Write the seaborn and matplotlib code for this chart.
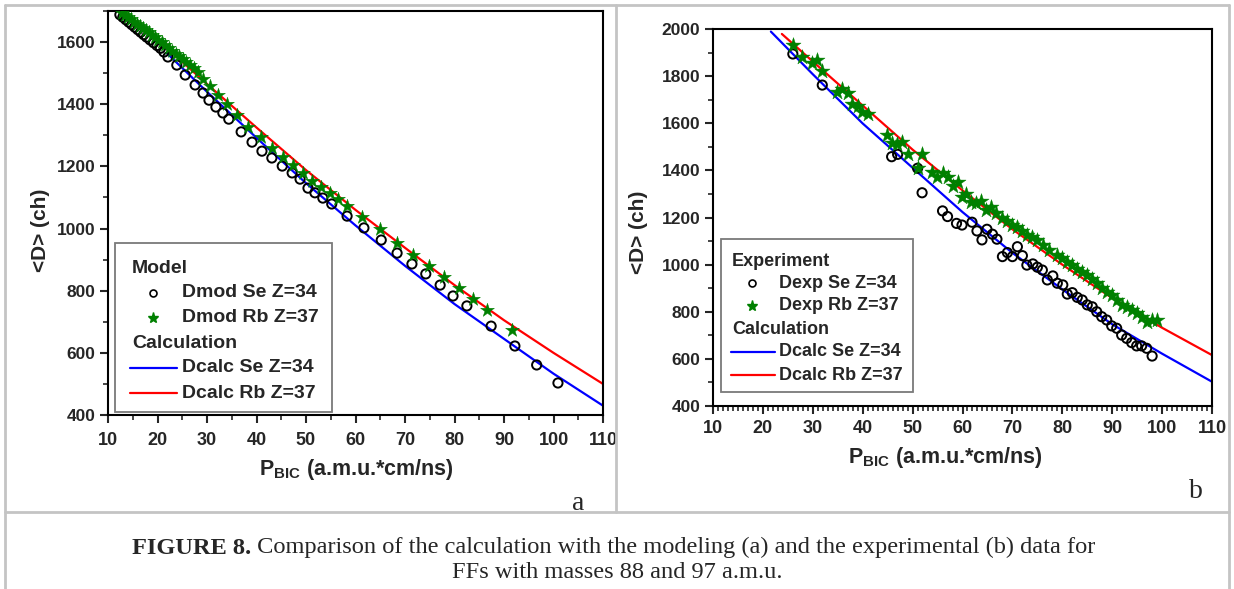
import numpy as np
import pandas as pd
import seaborn as sns
import matplotlib.pyplot as plt
from matplotlib.ticker import MultipleLocator
from matplotlib.lines import Line2D
from matplotlib.patches import Rectangle

# ---- panel a: model data (mass 88 / 97)
a_se_x = [12.4, 13.0, 13.6, 14.2, 14.8, 15.4, 16.0, 16.6, 17.2, 17.8, 18.5, 19.2, 19.9, 20.6,
          21.3, 22.1, 23.9, 25.6, 27.6, 29.2, 30.4, 31.8, 33.2, 34.4, 36.9, 39.1, 41.1, 43.1,
          45.2, 47.2, 48.8, 50.4, 51.8, 53.4, 55.2, 58.3, 61.7, 65.2, 68.4, 71.4, 74.2, 77.1,
          79.7, 82.5, 87.4, 92.2, 96.6, 100.9]
a_se_y = [1688, 1680, 1672, 1664, 1656, 1648, 1640, 1632, 1624, 1616, 1607, 1598, 1589, 1580,
          1568, 1552, 1526, 1494, 1462, 1436, 1413, 1391, 1372, 1352, 1311, 1278, 1249, 1227,
          1201, 1179, 1159, 1130, 1115, 1098, 1079, 1040, 1002, 963, 921, 886, 854, 818,
          783, 751, 686, 622, 561, 503]
a_rb_x = [12.8, 13.4, 14.0, 14.6, 15.2, 15.8, 16.4, 17.0, 17.6, 18.2, 18.8, 19.5, 20.2, 20.9,
          21.6, 22.3, 23.0, 23.7, 24.4, 25.1, 25.8, 26.6, 27.4, 28.2, 29.2, 30.6, 32.2, 34.0,
          36.1, 38.3, 40.9, 43.1, 45.3, 47.4, 49.4, 51.2, 53.0, 54.8, 56.5, 58.3, 61.3, 64.9,
          68.4, 71.6, 74.8, 77.9, 80.9, 83.7, 86.6, 91.6]
a_rb_y = [1694, 1687, 1680, 1673, 1666, 1659, 1652, 1645, 1638, 1631, 1624, 1616, 1607, 1599,
          1590, 1581, 1572, 1563, 1554, 1545, 1536, 1526, 1515, 1503, 1481, 1458, 1429, 1400,
          1365, 1327, 1294, 1259, 1230, 1204, 1179, 1153, 1134, 1114, 1095, 1072, 1037, 998,
          953, 915, 879, 844, 808, 773, 738, 673]
a_calc_se_x = [21.9, 30, 40, 50, 60, 70, 80, 90, 100, 110]
a_calc_se_y = [1564, 1440, 1292, 1146, 1010, 880, 757, 645, 533, 430]
a_calc_rb_x = [23.5, 30, 40, 50, 60, 70, 80, 90, 100, 110]
a_calc_rb_y = [1558, 1465, 1325, 1188, 1060, 938, 818, 705, 600, 500]

# ---- panel b: experimental data
b_se_x = [26.0, 31.9, 45.8, 47.0, 51.0, 51.9, 56.0, 57.0, 58.8, 59.9, 61.9, 62.9, 63.9, 64.9,
          66.0, 66.9, 68.0, 69.0, 70.0, 71.0, 72.0, 72.9, 74.1, 75.0, 76.0, 77.0, 78.1, 79.0,
          80.1, 81.0, 82.0, 83.0, 84.0, 85.0, 86.0, 86.9, 87.9, 88.9, 89.9, 90.9, 91.9, 92.9,
          93.9, 94.9, 95.9, 96.9, 98.0]
b_se_y = [1894, 1762, 1458, 1468, 1409, 1305, 1228, 1204, 1175, 1168, 1180, 1143, 1105, 1150,
          1129, 1108, 1034, 1051, 1034, 1076, 1038, 998, 1003, 989, 977, 935, 952, 921,
          914, 875, 881, 861, 850, 829, 821, 800, 779, 765, 740, 730, 701, 687,
          669, 655, 655, 645, 612]
b_rb_x = [26.0, 27.9, 29.8, 30.8, 31.9, 34.8, 35.9, 37.0, 37.9, 39.0, 39.9, 41.0, 44.8, 45.8,
          46.8, 47.8, 49.0, 51.0, 51.9, 53.8, 54.8, 56.0, 57.0, 58.0, 59.0, 59.9, 60.8, 61.8,
          62.8, 63.8, 64.8, 65.8, 66.8, 67.9, 68.9, 69.9, 70.9, 71.9, 72.9, 73.9, 74.9, 76.1,
          77.4, 78.9, 79.9, 80.9, 81.9, 82.9, 83.9, 84.9, 85.9, 86.9, 87.9, 88.9, 89.9, 90.9,
          91.9, 92.9, 93.9, 94.9, 95.9, 96.9, 97.9, 99.0]
b_rb_y = [1932, 1883, 1855, 1869, 1822, 1732, 1744, 1730, 1682, 1673, 1649, 1639, 1550, 1515,
          1512, 1522, 1468, 1412, 1470, 1395, 1371, 1388, 1371, 1334, 1352, 1289, 1300, 1267,
          1260, 1271, 1232, 1243, 1217, 1197, 1187, 1168, 1161, 1144, 1126, 1119, 1105, 1083,
          1062, 1041, 1027, 1012, 998, 980, 970, 956, 938, 921, 900, 885, 871, 850,
          829, 821, 807, 793, 776, 758, 765, 765]
b_calc_se_x = [21.6, 30, 40, 50, 60, 70, 80, 90, 100, 110]
b_calc_se_y = [1989, 1808, 1599, 1411, 1223, 1050, 895, 747, 622, 503]
b_calc_rb_x = [23.8, 30, 40, 50, 60, 70, 80, 90, 100, 110]
b_calc_rb_y = [1979, 1862, 1675, 1488, 1315, 1150, 1000, 858, 732, 616]

a_labels = ["Model", "Dmod Se Z=34", "Dmod Rb Z=37", "Calculation", "Dcalc Se Z=34", "Dcalc Rb Z=37"]
b_labels = ["Experiment", "Dexp Se Z=34", "Dexp Rb Z=37", "Calculation", "Dcalc Se Z=34", "Dcalc Rb Z=37"]

W, H = 1234, 589
GREEN = "#008000"

sns.set_style("ticks")
plt.rcParams["font.family"] = ["Liberation Sans", "DejaVu Sans"]
plt.rcParams["font.weight"] = "bold"
plt.rcParams["mathtext.fontset"] = "custom"
plt.rcParams["mathtext.bf"] = "Liberation Sans:bold"
plt.rcParams["mathtext.rm"] = "Liberation Sans:bold"


def fx(px):
    return px / W


def fy(py):
    return 1 - py / H


def rect(l, t, r, b):
    return [fx(l), fy(b), (r - l) / W, (b - t) / H]


fig = plt.figure(figsize=(W / 100, H / 100), dpi=100)

# table-like frame around the figure
frame = "#c4c4c4"
for xs, ys in [([5, 5], [5, H]), ([1229, 1229], [5, H]), ([5, 1229], [5, 5]),
               ([616, 616], [5, 512]), ([5, 1229], [512, 512])]:
    fig.add_artist(Line2D([fx(v) for v in xs], [fy(v) for v in ys], color=frame, lw=2,
                          transform=fig.transFigure))


def draw_panel(ax, se_x, se_y, rb_x, rb_y, cse_x, cse_y, crb_x, crb_y, ylim, minor_x, xfs, yfs,
               star_s, xpad):
    sns.lineplot(data=pd.DataFrame({"x": cse_x, "y": cse_y}), x="x", y="y", ax=ax,
                 color="#0000ff", lw=1.6)
    sns.lineplot(data=pd.DataFrame({"x": crb_x, "y": crb_y}), x="x", y="y", ax=ax,
                 color="#ff0000", lw=1.6)
    sns.scatterplot(data=pd.DataFrame({"x": se_x, "y": se_y}), x="x", y="y", ax=ax,
                    marker="o", s=44, facecolors="none", edgecolor="black", linewidth=1.4,
                    zorder=3)
    sns.scatterplot(data=pd.DataFrame({"x": rb_x, "y": rb_y}), x="x", y="y", ax=ax,
                    marker="*", s=star_s, color=GREEN, edgecolor=GREEN, linewidth=0.3, zorder=4)
    ax.set_xlim(10, 110)
    ax.set_ylim(*ylim)
    ax.xaxis.set_major_locator(MultipleLocator(10))
    ax.xaxis.set_minor_locator(MultipleLocator(minor_x))
    ax.yaxis.set_major_locator(MultipleLocator(200))
    ax.yaxis.set_minor_locator(MultipleLocator(100))
    ax.set_yticks(np.arange(400, ylim[1] + 1, 200))
    ax.tick_params(which="major", direction="out", length=6, width=1.5,
                   top=False, right=False, pad=3)
    ax.tick_params(axis="x", which="major", labelsize=xfs, pad=xpad)
    ax.tick_params(axis="y", which="major", labelsize=yfs)
    ax.tick_params(which="minor", direction="out", length=3.5, width=1.2, top=False, right=False)
    for lab in ax.get_xticklabels() + ax.get_yticklabels():
        lab.set_fontweight("bold")
    for sp in ax.spines.values():
        sp.set_visible(True)
        sp.set_linewidth(1.5)
        sp.set_color("black")
    ax.set_ylabel("<D> (ch)", fontsize=15, fontweight="bold")
    ax.set_xlabel(r"$\mathbf{P_{BIC}}$ (a.m.u.*cm/ns)", fontsize=15.5, fontweight="bold")


def draw_legend(box, rows, hx, mx, tx, lx0, lx1, labels, fs):
    l, t, r, b = box
    fig.add_artist(Rectangle((fx(l), fy(b)), (r - l) / W, (b - t) / H, transform=fig.transFigure,
                             facecolor="white", edgecolor="#7a7a7a", lw=1.3, zorder=5))
    kinds = ["head", "o", "*", "head", "#0000ff", "#ff0000"]
    for y, lab, kind in zip(rows, labels, kinds):
        if kind == "head":
            fig.text(fx(hx), fy(y), lab, fontsize=fs, fontweight="bold", va="center", ha="left",
                     zorder=6)
            continue
        if kind == "o":
            fig.add_artist(Line2D([fx(mx)], [fy(y)], marker="o", ms=5, mfc="none", mec="black",
                                  mew=1.2, transform=fig.transFigure, zorder=6))
        elif kind == "*":
            fig.add_artist(Line2D([fx(mx)], [fy(y)], marker="*", ms=8, color=GREEN,
                                  transform=fig.transFigure, zorder=6))
        else:
            fig.add_artist(Line2D([fx(lx0), fx(lx1)], [fy(y), fy(y)], color=kind, lw=1.6,
                                  transform=fig.transFigure, zorder=6))
        fig.text(fx(tx), fy(y), lab, fontsize=fs, fontweight="bold", va="center", ha="left",
                 zorder=6)


ax_a = fig.add_axes(rect(108, 11, 603, 415))
draw_panel(ax_a, a_se_x, a_se_y, a_rb_x, a_rb_y, a_calc_se_x, a_calc_se_y,
           a_calc_rb_x, a_calc_rb_y, (400, 1700), 5, 13, 12.5, 110, 6)
ax_a.yaxis.set_label_coords(-0.117, 0.458)
ax_a.xaxis.set_label_coords(0.501, -0.105)

ax_b = fig.add_axes(rect(713, 29, 1212, 406))
draw_panel(ax_b, b_se_x, b_se_y, b_rb_x, b_rb_y, b_calc_se_x, b_calc_se_y,
           b_calc_rb_x, b_calc_rb_y, (400, 2000), 1, 13, 12.5, 130, 4)
ax_b.yaxis.set_label_coords(-0.130, 0.46)
ax_b.xaxis.set_label_coords(0.465, -0.103)

draw_legend((115, 243, 332, 412), [268, 293, 318, 343, 368, 393], 132, 153, 182, 130, 177,
            a_labels, 14)
draw_legend((721, 239, 913, 392), [261, 283, 306, 329, 352, 375], 732, 752, 779, 731, 775,
            b_labels, 13)

serif = ["Liberation Serif", "DejaVu Serif"]
fig.text(fx(578), fy(503), "a", family=serif, fontsize=20, fontweight="normal",
         ha="center", va="center")
fig.text(fx(1196), fy(492), "b", family=serif, fontsize=20, fontweight="normal",
         ha="center", va="center")

t1 = fig.text(fx(132), fy(548), "FIGURE 8.", family=serif, fontsize=17.6, fontweight="bold",
              ha="left", va="center")
plt.annotate(" Comparison of the calculation with the modeling (a) and the experimental (b) data for",
             xy=(1, 0), xycoords=t1, xytext=(0, 0), textcoords="offset points",
             family=serif, fontsize=17.6, fontweight="normal", ha="left", va="bottom")
fig.text(fx(617), fy(572), "FFs with masses 88 and 97 a.m.u.", family=serif, fontsize=17.6,
         fontweight="normal", ha="center", va="center")

fig.savefig("out.png", dpi=100)
